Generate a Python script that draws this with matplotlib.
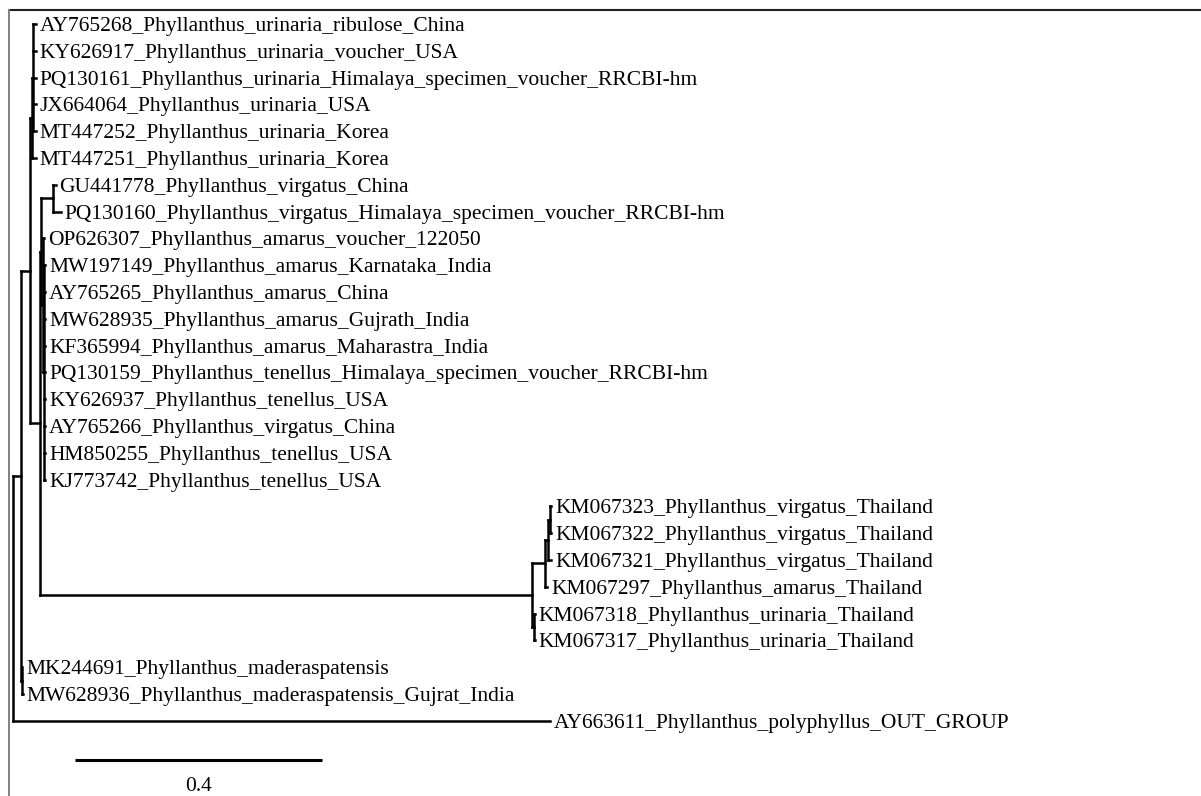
import matplotlib.pyplot as plt
from matplotlib.lines import Line2D

# tip labels, top to bottom
tips = [
    "AY765268_Phyllanthus_urinaria_ribulose_China",
    "KY626917_Phyllanthus_urinaria_voucher_USA",
    "PQ130161_Phyllanthus_urinaria_Himalaya_specimen_voucher_RRCBI-hm",
    "JX664064_Phyllanthus_urinaria_USA",
    "MT447252_Phyllanthus_urinaria_Korea",
    "MT447251_Phyllanthus_urinaria_Korea",
    "GU441778_Phyllanthus_virgatus_China",
    "PQ130160_Phyllanthus_virgatus_Himalaya_specimen_voucher_RRCBI-hm",
    "OP626307_Phyllanthus_amarus_voucher_122050",
    "MW197149_Phyllanthus_amarus_Karnataka_India",
    "AY765265_Phyllanthus_amarus_China",
    "MW628935_Phyllanthus_amarus_Gujrath_India",
    "KF365994_Phyllanthus_amarus_Maharastra_India",
    "PQ130159_Phyllanthus_tenellus_Himalaya_specimen_voucher_RRCBI-hm",
    "KY626937_Phyllanthus_tenellus_USA",
    "AY765266_Phyllanthus_virgatus_China",
    "HM850255_Phyllanthus_tenellus_USA",
    "KJ773742_Phyllanthus_tenellus_USA",
    "KM067323_Phyllanthus_virgatus_Thailand",
    "KM067322_Phyllanthus_virgatus_Thailand",
    "KM067321_Phyllanthus_virgatus_Thailand",
    "KM067297_Phyllanthus_amarus_Thailand",
    "KM067318_Phyllanthus_urinaria_Thailand",
    "KM067317_Phyllanthus_urinaria_Thailand",
    "MK244691_Phyllanthus_maderaspatensis",
    "MW628936_Phyllanthus_maderaspatensis_Gujrat_India",
    "AY663611_Phyllanthus_polyphyllus_OUT_GROUP",
]
tip_parent = ["U1", "U1", "U1", "U1", "U1", "U",
              "P", "P",
              "W", "W2", "W2", "W2", "W2", "W2", "W2", "W2", "W2", "W2",
              "T4", "T4", "T3", "T2", "T5", "T5",
              "Mad", "Mad", "root"]
tip_len = [0.004, 0.004, 0.004, 0.004, 0.004, 0.007,
           0.005, 0.013,
           0.002, 0.002, 0.002, 0.002, 0.002, 0.002, 0.002, 0.002, 0.002, 0.002,
           0.003, 0.003, 0.005, 0.003, 0.002, 0.002,
           0.001, 0.002, 0.870]

# internal nodes
nodes = ["root", "B", "C", "U", "U1", "E", "V", "W", "W2", "P",
         "T1", "T2", "T3", "T4", "T5", "Mad"]
node_parent = [None, "root", "B", "C", "U", "C", "E", "V", "W", "V",
               "E", "T1", "T2", "T3", "T1", "B"]
node_len = [0.0, 0.013, 0.015, 0.002, 0.003, 0.016, 0.002, 0.002, 0.002, 0.018,
            0.797, 0.021, 0.005, 0.002, 0.002, 0.001]

scale_len = 0.4

children = {n: [] for n in nodes}
for i, p in enumerate(tip_parent):
    children[p].append(("tip", i))
for n, p in zip(nodes, node_parent):
    if p is not None:
        children[p].append(("node", n))

xpos, ypos = {}, {}


def layout(key, x0):
    kind, ident = key
    if kind == "tip":
        xpos[key] = x0 + tip_len[ident]
        ypos[key] = ident
        return
    xpos[key] = x0 + node_len[nodes.index(ident)]
    ys = []
    for c in children[ident]:
        layout(c, xpos[key])
        ys.append(ypos[c])
    ypos[key] = (min(ys) + max(ys)) / 2


layout(("node", "root"), 0.0)

fig = plt.figure(figsize=(12.01, 7.96), dpi=100)
ax = fig.add_axes([0, 0, 1, 1])
ax.set_xlim(-13 / 617.5, (1201 - 13) / 617.5)
ax.set_ylim((796 - 24) / 26.8, -24 / 26.8)
ax.axis("off")

lw = 1.8
for n, p in zip(nodes, node_parent):
    key = ("node", n)
    ys = [ypos[c] for c in children[n]]
    ax.plot([xpos[key]] * 2, [min(ys), max(ys)], color="black", lw=lw,
            solid_capstyle="projecting")
    if p is not None:
        ax.plot([xpos[("node", p)], xpos[key]], [ypos[key]] * 2, color="black",
                lw=lw, solid_capstyle="projecting")

font = "Liberation Serif"
fs = 15.5
for i, p in enumerate(tip_parent):
    key = ("tip", i)
    ax.plot([xpos[("node", p)], xpos[key]], [i, i], color="black", lw=lw,
            solid_capstyle="projecting")
    ax.text(xpos[key] + 0.0065, i, tips[i], ha="left", va="center_baseline",
            fontsize=fs, family=font)

# scale bar
ax.plot([0.1, 0.1 + scale_len], [27.46, 27.46], color="black", lw=2.2,
        solid_capstyle="butt")
ax.text(0.1 + scale_len / 2, 28.35, "0.4", ha="center", va="center_baseline",
        fontsize=fs, family=font)

# window frame
fig.add_artist(Line2D([9 / 1201, 1], [1 - 10 / 796] * 2, color="#202020", lw=1.5))
fig.add_artist(Line2D([9 / 1201] * 2, [0, 1 - 10 / 796], color="#808080", lw=1.4))

fig.savefig("out.png", dpi=100)
